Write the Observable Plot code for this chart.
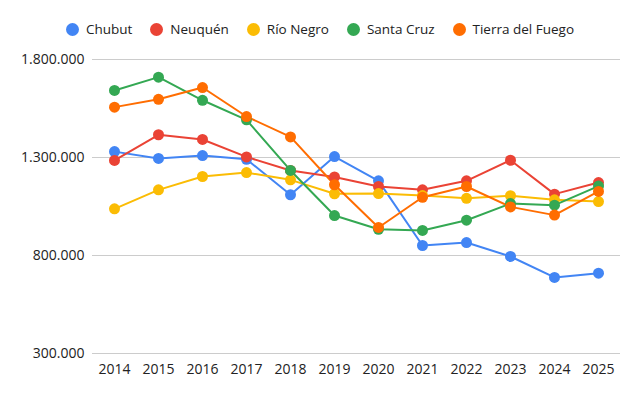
<!DOCTYPE html>
<html>
<head>
<meta charset="utf-8">
<script src="https://cdn.jsdelivr.net/npm/d3@7"></script>
<script src="https://cdn.jsdelivr.net/npm/@observablehq/plot@0.6"></script>
<style>
  html, body { margin: 0; padding: 0; background: #fff; }
  body { width: 640px; height: 396px; overflow: hidden; font-family: "Open Sans", sans-serif; }
  #legend { height: 46px; box-sizing: border-box; padding-top: 19px; display: flex; justify-content: center; align-items: flex-start; font-size: 13.5px; color: #222; line-height: 20px; }
  .item { display: flex; align-items: center; margin: 0 9px; }
  .sw { width: 13px; height: 13px; border-radius: 50%; margin-right: 7px; }
</style>
</head>
<body>
<div id="legend"></div>
<div id="chart"></div>
<script>
const years = [2014, 2015, 2016, 2017, 2018, 2019, 2020, 2021, 2022, 2023, 2024, 2025];
const seriesNames = ["Chubut", "Neuquén", "Río Negro", "Santa Cruz", "Tierra del Fuego"];
const colors = ["#4285F4", "#EA4335", "#FBBC04", "#34A853", "#FF6D01"];
const chubut = [1330000, 1295000, 1310000, 1291000, 1110000, 1305000, 1181000, 851000, 866000, 795000, 688000, 710000];
const neuquen = [1285000, 1416000, 1392000, 1303000, 1234000, 1201000, 1152000, 1135000, 1181000, 1286000, 1113000, 1172000];
const rioNegro = [1038000, 1135000, 1203000, 1223000, 1186000, 1115000, 1116000, 1106000, 1092000, 1105000, 1084000, 1075000];
const santaCruz = [1642000, 1710000, 1592000, 1492000, 1234000, 1004000, 934000, 928000, 980000, 1065000, 1057000, 1154000];
const tierraDelFuego = [1557000, 1597000, 1657000, 1509000, 1405000, 1161000, 943000, 1097000, 1152000, 1048000, 1006000, 1127000];
const yTicks = [300000, 800000, 1300000, 1800000];

const allSeries = [chubut, neuquen, rioNegro, santaCruz, tierraDelFuego];
const data = [];
allSeries.forEach((vals, i) => {
  vals.forEach((v, j) => data.push({series: seriesNames[i], year: String(years[j]), value: v}));
});

const locale = d3.formatLocale({decimal: ",", thousands: ".", grouping: [3], currency: ["", ""]});
const fmt = locale.format(",d");

// legend
const legend = document.getElementById("legend");
seriesNames.forEach((n, i) => {
  const it = document.createElement("div");
  it.className = "item";
  const sw = document.createElement("span");
  sw.className = "sw";
  sw.style.background = colors[i];
  const t = document.createElement("span");
  t.textContent = n;
  it.appendChild(sw); it.appendChild(t);
  legend.appendChild(it);
});

const chart = Plot.plot({
  width: 640,
  height: 350,
  marginTop: 13,
  marginBottom: 43,
  marginLeft: 92,
  marginRight: 20,
  style: {fontFamily: "Open Sans, sans-serif", fontSize: "14px", color: "#222", background: "#fff"},
  x: {type: "point", domain: years.map(String), padding: 0.5, label: null, tickSize: 0, tickPadding: 11},
  y: {domain: [300000, 1800000], ticks: yTicks, tickFormat: fmt, label: null, tickSize: 0, tickPadding: 8},
  color: {domain: seriesNames, range: colors},
  marks: [
    Plot.gridY(yTicks, {stroke: "#ccc", strokeOpacity: 1, strokeWidth: 1}),
    Plot.line(data, {x: "year", y: "value", z: "series", stroke: "series", strokeWidth: 2}),
    Plot.dot(data, {x: "year", y: "value", fill: "series", r: 5.5, stroke: "none"})
  ]
});
document.getElementById("chart").appendChild(chart);
</script>
</body>
</html>
